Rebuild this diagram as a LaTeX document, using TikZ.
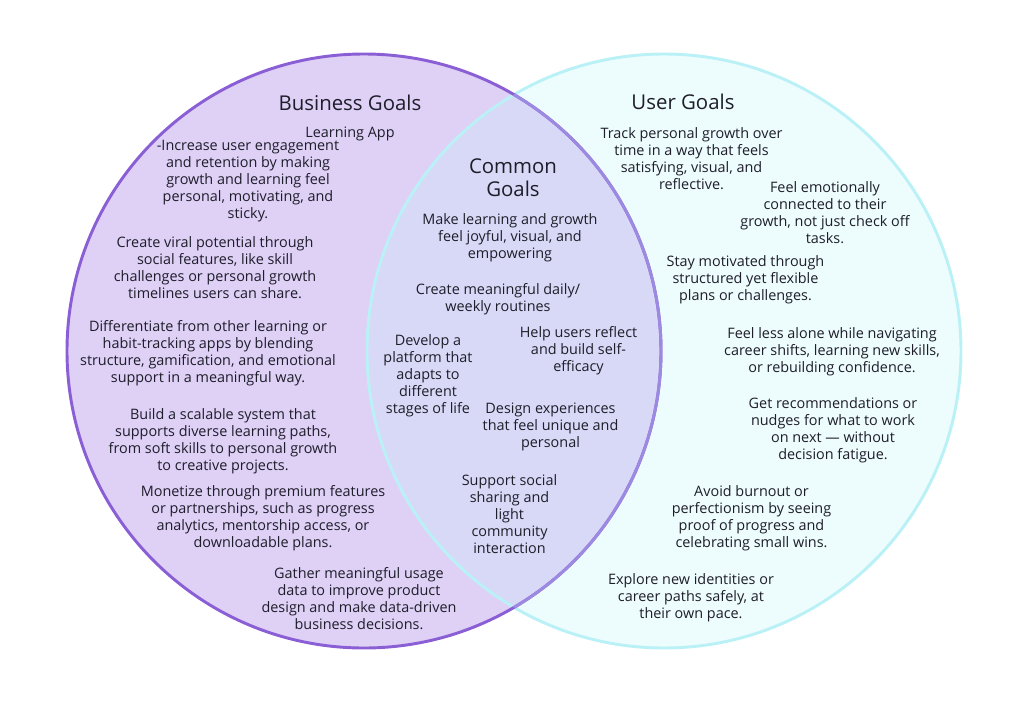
\documentclass[tikz,border=0pt]{standalone}
\usepackage{fontspec}
\setmainfont{Open Sans}
\definecolor{bizfill}{RGB}{223, 208, 246}
\definecolor{bizline}{RGB}{138, 94, 212}
\definecolor{bizsoft}{RGB}{156, 138, 226}
\definecolor{userfill}{RGB}{237, 252, 253}
\definecolor{userline}{RGB}{186, 241, 247}
\definecolor{comfill}{RGB}{216, 217, 246}
\definecolor{ink}{RGB}{30, 30, 42}
\tikzset{
  goal/.style={align=center, text=ink, inner sep=0pt, yshift=-1.1pt, font=\fontsize{10.8}{12.75}\selectfont},
  heading/.style={align=center, text=ink, inner sep=0pt, yshift=-0.8pt, font=\fontsize{15.3}{17.25}\selectfont}
}

\begin{document}
\begin{tikzpicture}[x=0.75pt, y=-0.75pt]
  \useasboundingbox (0,0) rectangle (1027,704);
  % circles
  \fill[bizfill] (364,351) circle (297);
  \fill[userfill] (664,351) circle (297);
  \begin{scope}
    \clip (364,351) circle (297);
    \fill[comfill] (664,351) circle (297);
  \end{scope}
  \draw[userline, line width=2.2pt] (664,351) circle (297);
  \draw[bizline, line width=2.2pt] (364,351) circle (297);
  \begin{scope}
    \clip (664,351) circle (297);
    \draw[bizsoft, line width=2.2pt] (364,351) circle (297);
  \end{scope}

  % titles
  \node[heading] (bizTitle) at (350,102) {Business Goals};
  \node[heading] (userTitle) at (683,101) {User Goals};
  \node[heading] (comTitle) at (513,176.5) {Common\\Goals};

  % business goals
  \node[goal] (bizApp) at (350,132) {Learning App};
  \node[goal] (bizEngage) at (248,180) {-Increase user engagement\\and retention by making\\growth and learning feel\\personal, motivating, and\\sticky.};
  \node[goal] (bizViral) at (215,266.5) {Create viral potential through\\social features, like skill\\challenges or personal growth\\timelines users can share.};
  \node[goal] (bizDiff) at (208,351.5) {Differentiate from other learning or\\habit-tracking apps by blending\\structure, gamification, and emotional\\support in a meaningful way.};
  \node[goal] (bizScale) at (223,439.5) {Build a scalable system that\\supports diverse learning paths,\\from soft skills to personal growth\\to creative projects.};
  \node[goal] (bizMoney) at (263,516.5) {Monetize through premium features\\or partnerships, such as progress\\analytics, mentorship access, or\\downloadable plans.};
  \node[goal] (bizData) at (359,597.5) {Gather meaningful usage\\data to improve product\\design and make data-driven\\business decisions.};

  % common goals
  \node[goal] (comJoy) at (510,236) {Make learning and growth\\feel joyful, visual, and\\empowering};
  \node[goal] (comRoutine) at (498,297.5) {Create meaningful daily/\\weekly routines};
  \node[goal] (comStage) at (428,374) {Develop a\\platform that\\adapts to\\different\\stages of life};
  \node[goal] (comReflect) at (578.5,349) {Help users reflect\\and build self-\\efficacy};
  \node[goal] (comUnique) at (550.5,425) {Design experiences\\that feel unique and\\personal};
  \node[goal] (comSocial) at (509.5,513) {Support social\\sharing and\\light\\community\\interaction};

  % user goals
  \node[goal] (userTrack) at (691.5,157.5) {Track personal growth over\\time in a way that feels\\satisfying, visual, and\\reflective.};
  \node[goal] (userEmotion) at (825,211.5) {Feel emotionally\\connected to their\\growth, not just check off\\tasks.};
  \node[goal] (userMotive) at (745.5,278) {Stay motivated through\\structured yet flexible\\plans or challenges.};
  \node[goal] (userAlone) at (832,350) {Feel less alone while navigating\\career shifts, learning new skills,\\or rebuilding confidence.};
  \node[goal] (userNudge) at (833,428.5) {Get recommendations or\\nudges for what to work\\on next — without\\decision fatigue.};
  \node[goal] (userBurnout) at (751.5,516.5) {Avoid burnout or\\perfectionism by seeing\\proof of progress and\\celebrating small wins.};
  \node[goal] (userExplore) at (691,596) {Explore new identities or\\career paths safely, at\\their own pace.};
\end{tikzpicture}
\end{document}
